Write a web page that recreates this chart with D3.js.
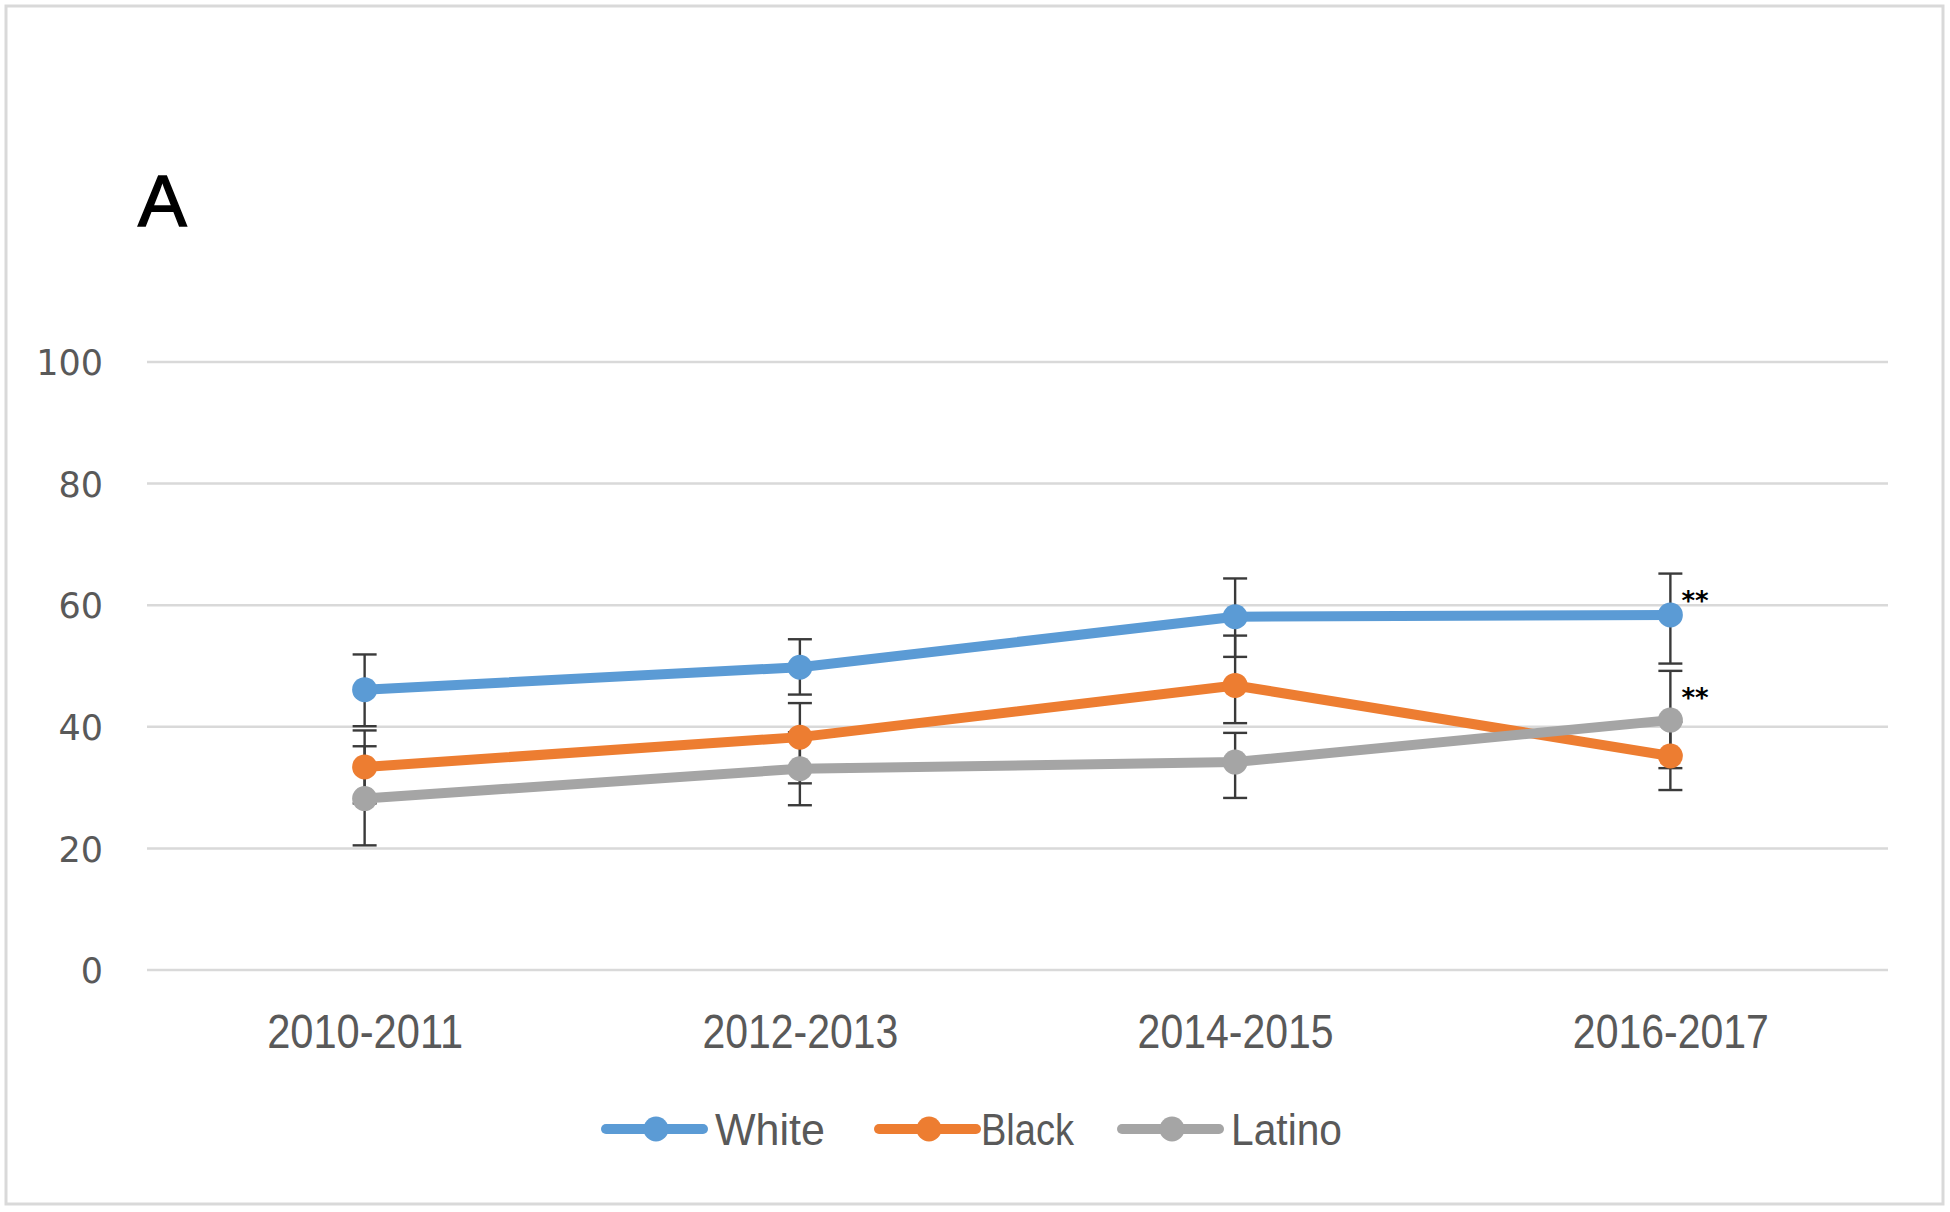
<!DOCTYPE html>
<html><head><meta charset="utf-8">
<script src="https://cdn.jsdelivr.net/npm/d3@7"></script>
<style>html,body{margin:0;padding:0;background:#fff;}svg{display:block;}</style>
</head><body>
<svg id="chart" width="1950" height="1212"></svg>
<script>
const categories = ["2010-2011", "2012-2013", "2014-2015", "2016-2017"];
const seriesNames = ["White", "Black", "Latino"];
const colors = ["#5b9bd5", "#ed7d31", "#a5a5a5"];
const whiteValues = [46.1, 49.8, 58.1, 58.4];
const whiteLow = [40.1, 45.3, 51.5, 50.4];
const whiteHigh = [51.9, 54.4, 64.4, 65.2];
const blackValues = [33.4, 38.3, 46.8, 35.2];
const blackLow = [27.4, 30.7, 40.6, 29.6];
const blackHigh = [39.4, 43.9, 55.0, 40.8];
const latinoValues = [28.2, 33.1, 34.2, 41.1];
const latinoLow = [20.5, 27.1, 28.3, 33.2];
const latinoHigh = [36.8, 39.1, 39.0, 49.2];
const yTicks = [0, 20, 40, 60, 80, 100];
const sigLabels = [{series: 0, cat: 3, text: "**"}, {series: 2, cat: 3, text: "**"}];

const series = [
  {name: seriesNames[0], color: colors[0], v: whiteValues, lo: whiteLow, hi: whiteHigh},
  {name: seriesNames[1], color: colors[1], v: blackValues, lo: blackLow, hi: blackHigh},
  {name: seriesNames[2], color: colors[2], v: latinoValues, lo: latinoLow, hi: latinoHigh}
];

const svg = d3.select("#chart");
// frame
svg.append("rect").attr("x", 6).attr("y", 6).attr("width", 1937).attr("height", 1198)
  .attr("fill", "#fff").attr("stroke", "#d9d9d9").attr("stroke-width", 3);

const x = d3.scalePoint().domain(categories).range([147, 1888]).padding(0.5);
const y = d3.scaleLinear().domain([0, 100]).range([970, 362]);

// gridlines
svg.append("g").selectAll("line").data(yTicks).join("line")
  .attr("x1", 147).attr("x2", 1888)
  .attr("y1", d => y(d)).attr("y2", d => y(d))
  .attr("stroke", "#d9d9d9").attr("stroke-width", 2.5);

// y axis labels
const yAxis = svg.append("g").attr("transform", "translate(103,0)")
  .call(d3.axisLeft(y).tickValues(yTicks).tickSize(0).tickPadding(0));
yAxis.select(".domain").remove();
yAxis.selectAll("text").attr("font-family", "DejaVu Sans, Verdana, sans-serif")
  .attr("font-size", 35).attr("fill", "#595959").attr("dy", "0.36em");

// x axis labels (condensed look)
const xAxis = svg.append("g").attr("transform", "translate(0,1031)")
  .call(d3.axisBottom(x).tickSize(0).tickPadding(0));
xAxis.select(".domain").remove();
xAxis.selectAll("text").attr("font-family", "Liberation Sans, Arial, sans-serif")
  .attr("font-size", 48).attr("fill", "#595959").attr("dy", "0.36em")
  .attr("textLength", 196).attr("lengthAdjust", "spacingAndGlyphs");

// panel letter
svg.append("text").attr("x", 138).attr("y", 226).text("A")
  .attr("font-family", "Liberation Sans, Arial, sans-serif").attr("font-size", 73)
  .attr("fill", "#000").attr("stroke", "#000").attr("stroke-width", 1.5);

// error bars (behind lines)
const capW = 12;
series.forEach(s => {
  const g = svg.append("g").attr("stroke", "#3a3a3a").attr("stroke-width", 2.4);
  categories.forEach((c, i) => {
    const cx = x(c);
    g.append("line").attr("x1", cx).attr("x2", cx).attr("y1", y(s.lo[i])).attr("y2", y(s.hi[i]));
    g.append("line").attr("x1", cx - capW).attr("x2", cx + capW).attr("y1", y(s.lo[i])).attr("y2", y(s.lo[i]));
    g.append("line").attr("x1", cx - capW).attr("x2", cx + capW).attr("y1", y(s.hi[i])).attr("y2", y(s.hi[i]));
  });
});

// lines and markers
const line = d3.line().x((d, i) => x(categories[i])).y(d => y(d));
series.forEach(s => {
  svg.append("path").datum(s.v).attr("d", line).attr("fill", "none")
    .attr("stroke", s.color).attr("stroke-width", 10).attr("stroke-linejoin", "round");
  svg.append("g").selectAll("circle").data(s.v).join("circle")
    .attr("cx", (d, i) => x(categories[i])).attr("cy", d => y(d)).attr("r", 12.5)
    .attr("fill", s.color);
});

// significance labels
sigLabels.forEach(l => {
  const s = series[l.series];
  svg.append("text").attr("x", x(categories[l.cat]) + 11).attr("y", y(s.hi[l.cat]) + 36)
    .text(l.text).attr("font-family", "DejaVu Sans, sans-serif").attr("font-weight", "bold")
    .attr("font-size", 26).attr("fill", "#000");
});

// legend
const legendY = 1129;
const legendItems = [{x: 606, tx: 715, tw: 110}, {x: 879, tx: 981, tw: 93}, {x: 1122, tx: 1231, tw: 111}];
series.forEach((s, i) => {
  const lx = legendItems[i].x;
  const g = svg.append("g");
  g.append("line").attr("x1", lx).attr("x2", lx + 97).attr("y1", legendY).attr("y2", legendY)
    .attr("stroke", s.color).attr("stroke-width", 10).attr("stroke-linecap", "round");
  g.append("circle").attr("cx", lx + 50).attr("cy", legendY).attr("r", 12.5).attr("fill", s.color);
  g.append("text").attr("x", legendItems[i].tx).attr("y", legendY).attr("dy", "0.36em").text(s.name)
    .attr("font-family", "Liberation Sans, Arial, sans-serif")
    .attr("font-size", 44).attr("fill", "#595959")
    .attr("textLength", legendItems[i].tw).attr("lengthAdjust", "spacingAndGlyphs");
});
</script>
</body></html>
